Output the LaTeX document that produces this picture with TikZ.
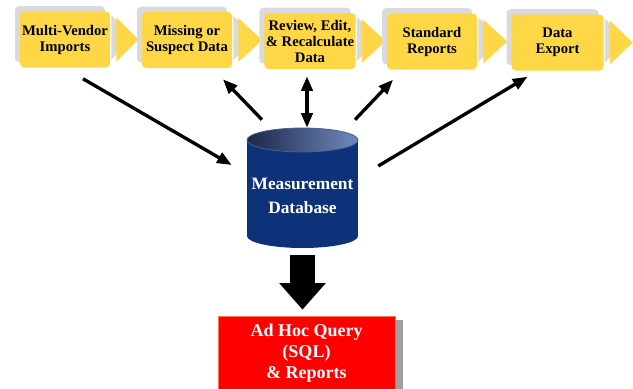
\documentclass[tikz,border=0pt]{standalone}
\usepackage{fontspec}
\setmainfont{Liberation Serif}
\usetikzlibrary{calc,arrows.meta,shadows}

\definecolor{boxyellow}{RGB}{253,215,70}
\definecolor{shadowgrey}{RGB}{218,218,218}
\definecolor{dbblue}{RGB}{14,50,122}
\definecolor{dbtopdark}{RGB}{28,38,72}
\definecolor{dbtoplight}{RGB}{112,138,190}
\definecolor{dbrim}{RGB}{70,95,150}
\definecolor{adhocred}{RGB}{255,0,0}
\definecolor{adhocedge}{RGB}{255,120,80}
\definecolor{adhocshadow}{RGB}{160,160,160}

\tikzset{
  stepbox/.style={fill=boxyellow, rounded corners=3pt, minimum width=67.5pt, minimum height=42pt,
    inner sep=1pt, align=center, font=\bfseries\fontsize{11}{12}\selectfont,
    drop shadow={shadow xshift=-3.75pt, shadow yshift=4pt, fill=shadowgrey, opacity=1}},
  chevron/.style={fill=boxyellow,
    drop shadow={shadow xshift=-3.75pt, shadow yshift=1.5pt, fill=shadowgrey, opacity=1}},
  link/.style={line width=2.5pt, ->},
  >={Triangle[length=11pt,width=8.5pt]},
}

\begin{document}
\begin{tikzpicture}[x=0.75pt,y=0.75pt,yscale=-1,xscale=1]
\useasboundingbox (0,0) rectangle (633,389);

% Step Boxes
\node[stepbox] (imp) at (65,39.5) {Multi-Vendor\\Imports};
\path[chevron] ($(imp.east)+(6,-22)$) -- ($(imp.east)+(28,0)$) -- ($(imp.east)+(6,22)$) -- cycle;
\node[stepbox] (sus) at (187,40) {Missing or\\Suspect Data};
\path[chevron] ($(sus.east)+(6,-22)$) -- ($(sus.east)+(30,0)$) -- ($(sus.east)+(6,22)$) -- cycle;
\node[stepbox] (rev) at (310,41) {Review, Edit,\\\& Recalculate\\Data};
\path[chevron] ($(rev.east)+(6,-22)$) -- ($(rev.east)+(30,0)$) -- ($(rev.east)+(6,22)$) -- cycle;
\node[stepbox] (std) at (432,41.5) {Standard\\Reports};
\path[chevron] ($(std.east)+(6,-22)$) -- ($(std.east)+(30,0)$) -- ($(std.east)+(6,22)$) -- cycle;
\node[stepbox, minimum width=69pt] (exp) at (557.5,42.5) {Data\\Export};
\path[chevron] ($(exp.east)+(6,-22)$) -- ($(exp.east)+(29,0)$) -- ($(exp.east)+(6,22)$) -- cycle;

%Shape: Can
\fill[dbblue] (247,140) rectangle (358,236);
\fill[dbblue] (302.5,236) ellipse [x radius=55.5, y radius=12];
\shade[left color=dbtopdark, right color=dbtoplight] (302.5,140) ellipse [x radius=55.5, y radius=12];
\draw[dbrim, line width=0.6pt] (302.5,140) ellipse [x radius=55.5, y radius=12];
\node[minimum width=83.25pt, minimum height=90pt, inner sep=0pt] (db) at (302.5,188) {};
% Text Node
\node[text=white, align=center, font=\bfseries\fontsize{13}{17.5}\selectfont] (dbtext) at ($(db.center)+(0,8)$) {Measurement\\Database};

%Shape: Rectangle
\node[fill=adhocred, draw=adhocedge, line width=0.5pt, minimum width=132.75pt, minimum height=55.5pt,
  text=white, align=center, font=\bfseries\fontsize{13.5}{15.75}\selectfont,
  drop shadow={shadow xshift=6pt, shadow yshift=-3pt, fill=adhocshadow, opacity=1}]
  (adhoc) at (306.5,353) {Ad Hoc Query\\(SQL)\\\& Reports};

%Straight Lines
\draw[link] ($(imp.south)+(18,11)$) -- ($(db.west)+(-15,-23)$);
\draw[link] ($(db.north)+(-40.5,-8)$) -- ($(sus.south)+(36,11)$);
\draw[link, <->] ($(rev.south)+(-3,7)$) -- ($(db.north)+(4.5,0)$);
\draw[link] ($(db.north)+(52.5,-8)$) -- ($(std.south)+(-39,10)$);
\draw[link] ($(db.east)+(20,-22)$) -- ($(exp.south)+(-30,6)$);
%Block Arrow
\draw[line width=18.75pt, -{Triangle[length=20pt,width=33.75pt]}] ($(db.south)+(0,7)$) -- ($(adhoc.north)+(-4,-6)$);

\end{tikzpicture}
\end{document}
